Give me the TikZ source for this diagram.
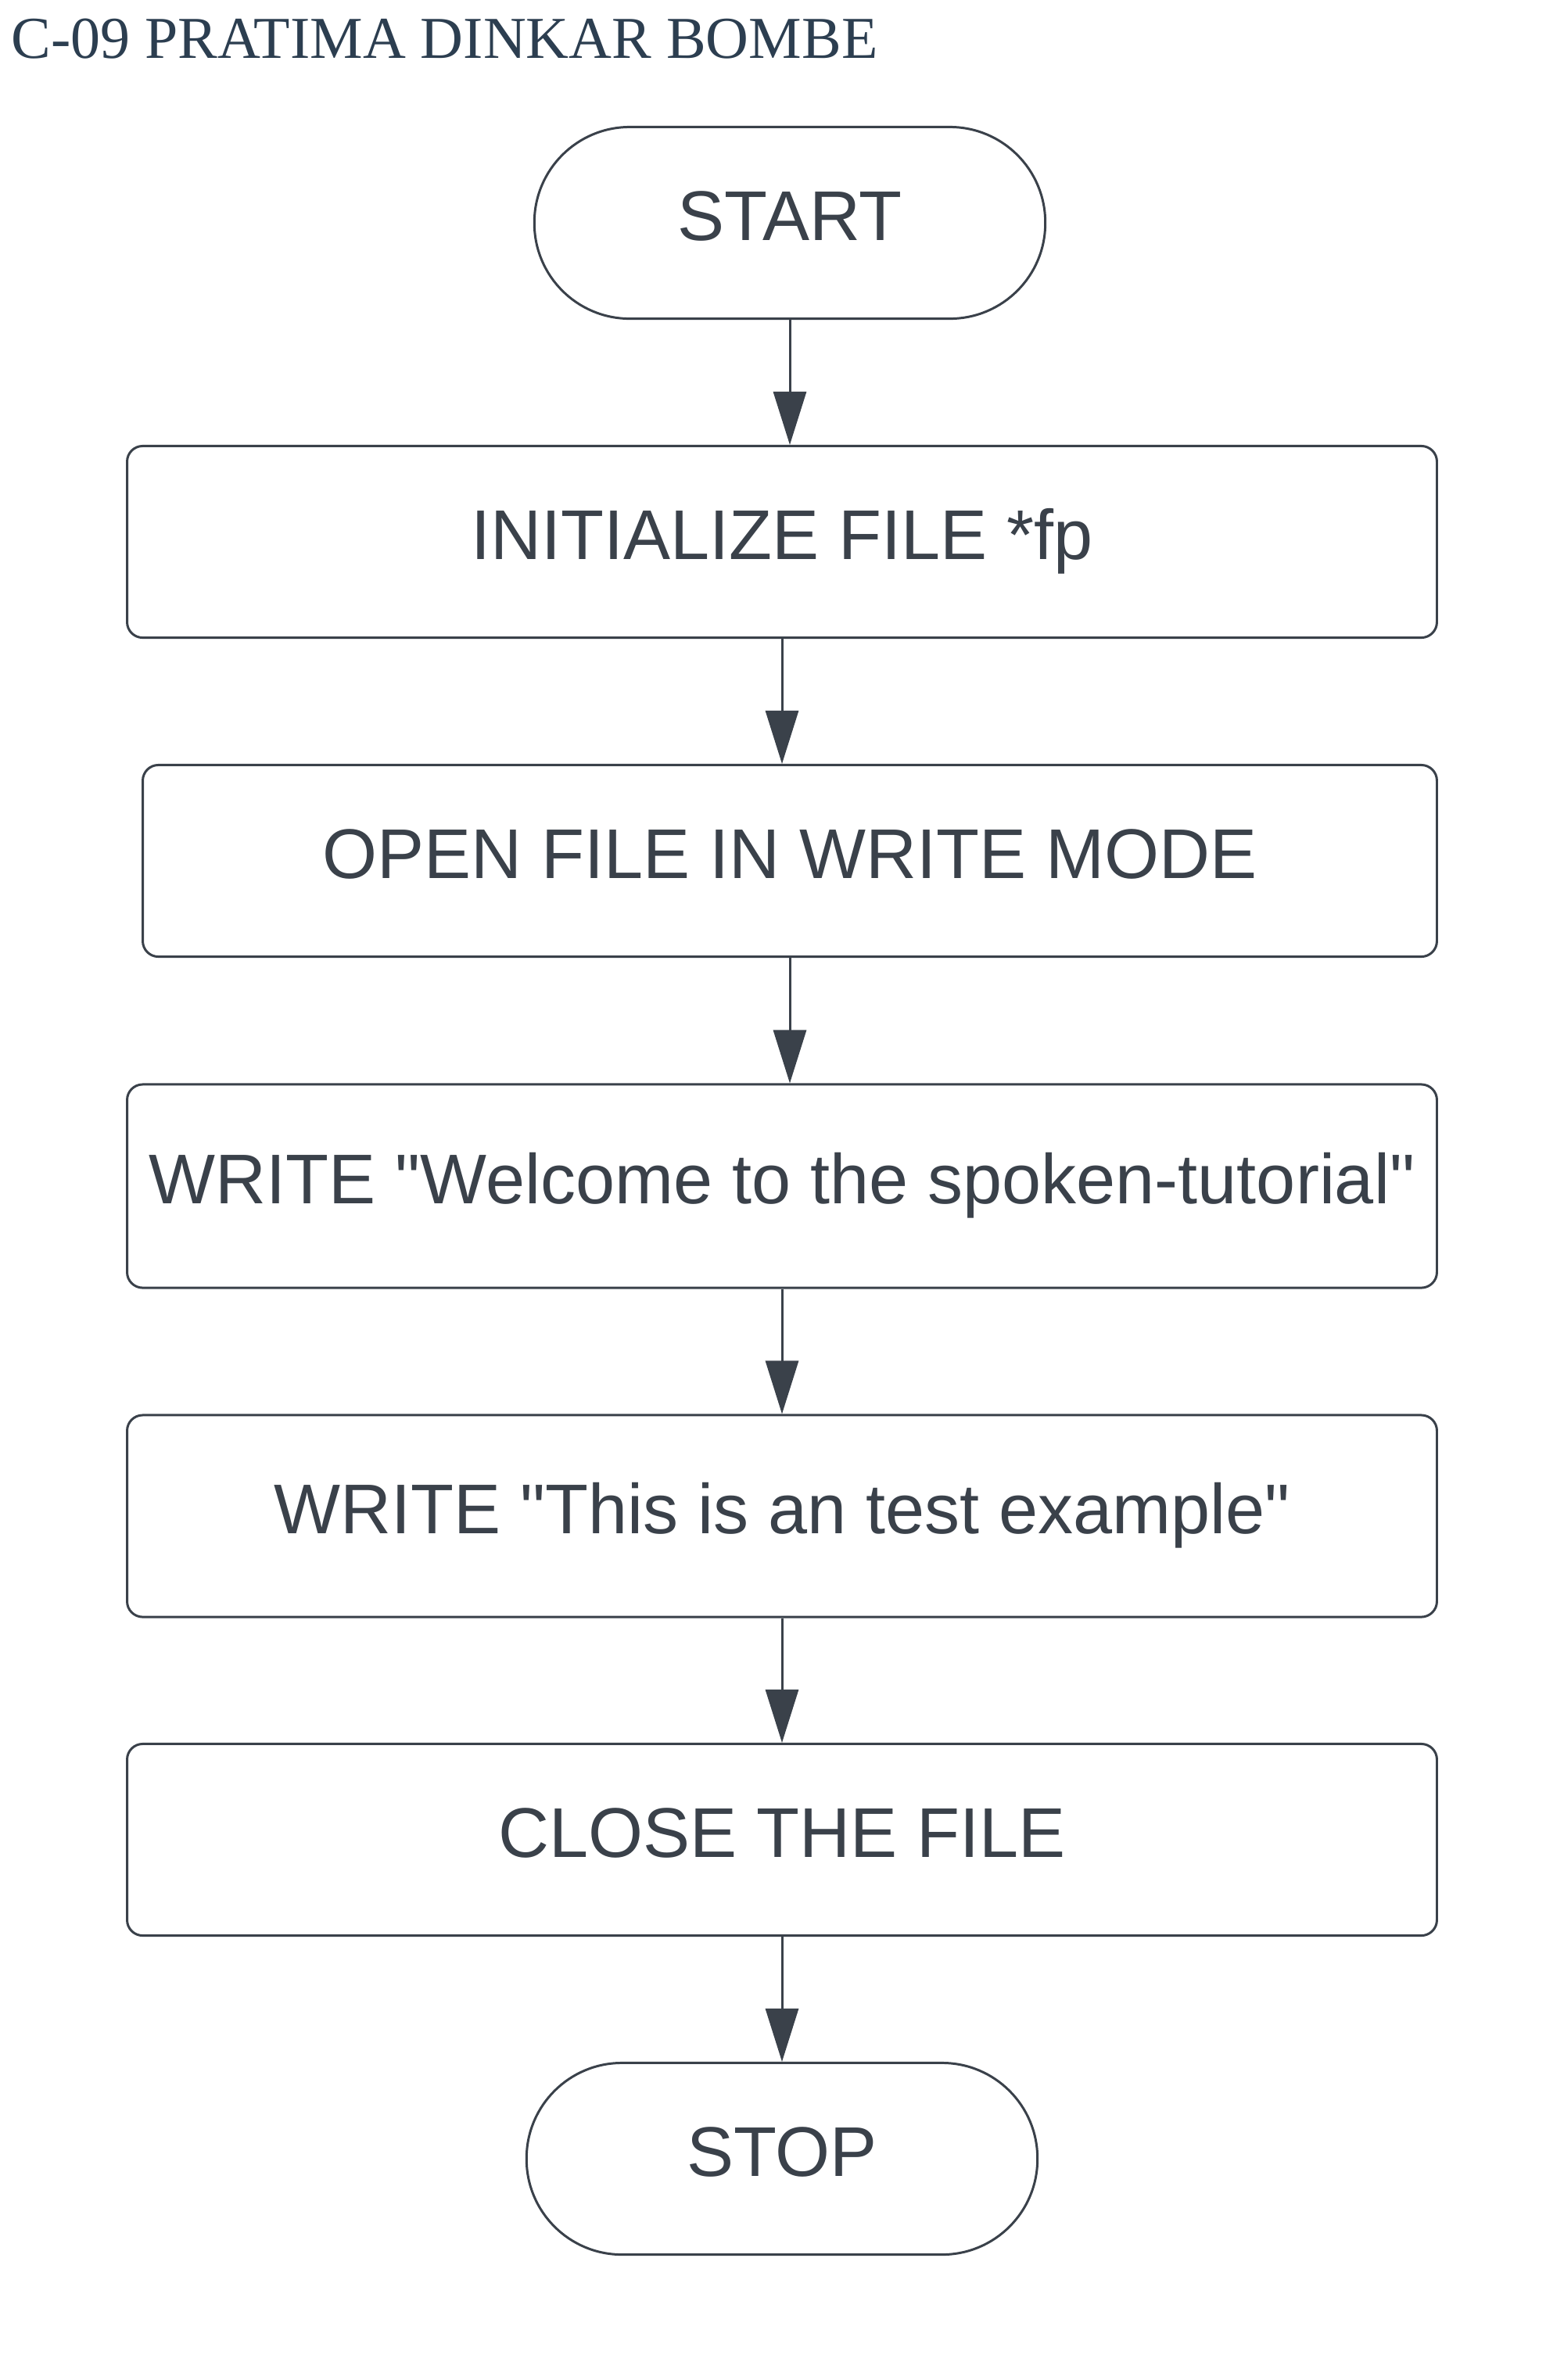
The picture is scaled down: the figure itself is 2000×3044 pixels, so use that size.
\documentclass[tikz,border=0pt]{standalone}
\usepackage{fontspec}
\usepackage{xcolor}
\usepackage{tikz}
\usetikzlibrary{arrows.meta}
\setmainfont{Liberation Sans}[Ligatures=TeXOff]
\newfontfamily\titlefont{Liberation Serif}
\definecolor{inkgray}{HTML}{3A414A}
\definecolor{titleslate}{HTML}{2C3E50}

\begin{document}
\begin{tikzpicture}[x=0.01cm, y=-0.01cm,
    flowline/.style  = {draw=inkgray, line width=0.85pt},
    terminal/.style  = {flowline, rounded corners=1.22cm, minimum width=6.53cm,
                        minimum height=2.45cm, inner sep=0pt, text=inkgray,
                        font=\fontsize{25.6}{30}\selectfont,
                        text height=0.64cm, text depth=0.2cm},
    process/.style   = {terminal, rounded corners=0.2cm, minimum width=16.74cm},
    flowarrow/.style = {flowline, -{Triangle[length=0.68cm, width=0.42cm]}}]
  \useasboundingbox[fill=white] (0,0) rectangle (2000,3044);
  \node [anchor=base west, inner sep=0pt, text=titleslate,
         font=\titlefont\fontsize{21.6}{26}\selectfont] (title) at (14,74)
        {C-09 PRATIMA DINKAR BOMBE};
  \node [terminal] (start) at (1010,285) {START};
  \node [process] (init) at (1000,693) {INITIALIZE FILE *fp};
  \node [process, minimum width=16.54cm] (open) at (1010,1101) {OPEN FILE IN WRITE MODE};
  \node [process, minimum height=2.6cm] (welcome) at (1000,1517) {WRITE "Welcome to the spoken-tutorial"};
  \node [process, minimum height=2.58cm] (example) at (1000,1939) {WRITE "This is an test example"};
  \node [process] (close) at (1000,2353) {CLOSE THE FILE};
  \node [terminal] (stop) at (1000,2761) {STOP};
  \draw [flowarrow] (start.south)   -- (start.south |- init.north);
  \draw [flowarrow] (init.south)    -- (init.south |- open.north);
  \draw [flowarrow] (open.south)    -- (open.south |- welcome.north);
  \draw [flowarrow] (welcome.south) -- (welcome.south |- example.north);
  \draw [flowarrow] (example.south) -- (example.south |- close.north);
  \draw [flowarrow] (close.south)   -- (close.south |- stop.north);
\end{tikzpicture}
\end{document}
